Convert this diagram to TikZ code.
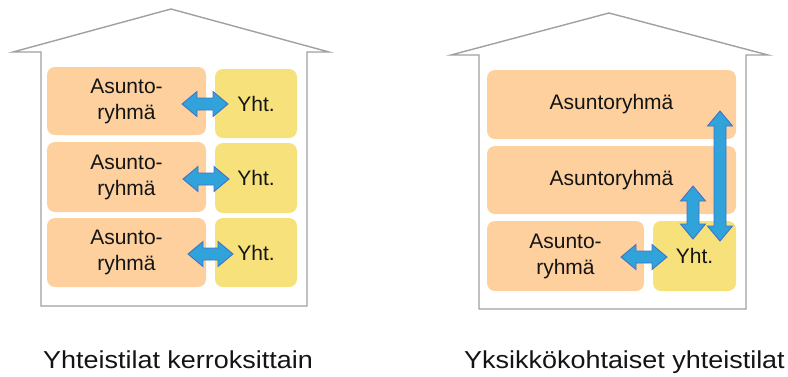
\documentclass[tikz,border=0pt]{standalone}
\usepackage{fontspec}
\setmainfont{Liberation Sans}
\definecolor{boxorange}{RGB}{253,208,158}
\definecolor{boxyellow}{RGB}{246,225,122}
\definecolor{arrowfill}{RGB}{47,163,218}
\definecolor{arrowline}{RGB}{68,114,196}
\definecolor{housegray}{RGB}{160,160,160}
\definecolor{textdark}{RGB}{20,20,20}
\newcommand\blockarrow[4]{%
  \begin{scope}[shift={(#1,#2)},rotate=#4]
    \pgfmathsetmacro\hl{#3/2}
    \pgfmathsetmacro\hb{#3/2-15}
    \filldraw[arrowstyle] (-\hl,0) -- (-\hb,12.5) -- (-\hb,6) -- (\hb,6) -- (\hb,12.5) -- (\hl,0)
      -- (\hb,-12.5) -- (\hb,-6) -- (-\hb,-6) -- (-\hb,-12.5) -- cycle;
  \end{scope}}
\begin{document}
\begin{tikzpicture}[x=1pt,y=-1pt,
  house/.style={draw=housegray,line width=1.4pt,line join=miter},
  obox/.style={fill=boxorange,rounded corners=8pt,inner sep=0pt,text=textdark,align=center,
    font=\fontsize{21}{26}\selectfont},
  ybox/.style={fill=boxyellow,rounded corners=8pt,inner sep=0pt,text=textdark,align=center,
    font=\fontsize{21}{26}\selectfont},
  arrowstyle/.style={fill=arrowfill,draw=arrowline,line width=0.9pt,line join=miter},
  caption/.style={anchor=base,text=textdark,inner sep=0pt,xscale=1.1,
    font=\fontsize{24.5}{28}\selectfont}]
\useasboundingbox (0,0) rectangle (788,376);
% left house
\draw[house] (41,52) -- (13,52) -- (171,9) -- (329,52) -- (307,52) -- (307,306) -- (41,306) -- cycle;
\node[obox,minimum width=159pt,minimum height=68pt] (a1) at (126.5,101) {Asunto-\\ryhmä};
\node[obox,minimum width=159pt,minimum height=70pt] (a2) at (126.5,177) {Asunto-\\ryhmä};
\node[obox,minimum width=159pt,minimum height=69pt] (a3) at (126.5,252.5) {Asunto-\\ryhmä};
\node[ybox,minimum width=82pt,minimum height=69pt] (y1) at (256,103.5) {Yht.};
\node[ybox,minimum width=82pt,minimum height=70pt] (y2) at (256,178) {Yht.};
\node[ybox,minimum width=82pt,minimum height=69pt] (y3) at (256,252.5) {Yht.};
\blockarrow{205}{104}{46}{0}
\blockarrow{206}{179}{46}{0}
\blockarrow{210.5}{254}{45}{0}
% right house
\draw[house] (479,55) -- (451,55) -- (609,13) -- (768,55) -- (746,55) -- (746,309) -- (479,309) -- cycle;
\node[obox,minimum width=249pt,minimum height=69pt] (b1) at (611.5,104.5) {Asuntoryhmä};
\node[obox,minimum width=249pt,minimum height=68pt] (b2) at (611.5,180) {Asuntoryhmä};
\node[obox,minimum width=157pt,minimum height=70pt] (b3) at (565.5,256) {Asunto-\\ryhmä};
\node[ybox,minimum width=83pt,minimum height=70pt] (y4) at (694.5,256) {Yht.};
\blockarrow{644}{257}{46}{0}
\blockarrow{693}{212.5}{53}{90}
\blockarrow{720}{176}{130}{90}
% captions
\node[caption] (c1) at (178,368) {Yhteistilat kerroksittain};
\node[caption] (c2) at (624.5,368) {Yksikkökohtaiset yhteistilat};
\end{tikzpicture}
\end{document}
